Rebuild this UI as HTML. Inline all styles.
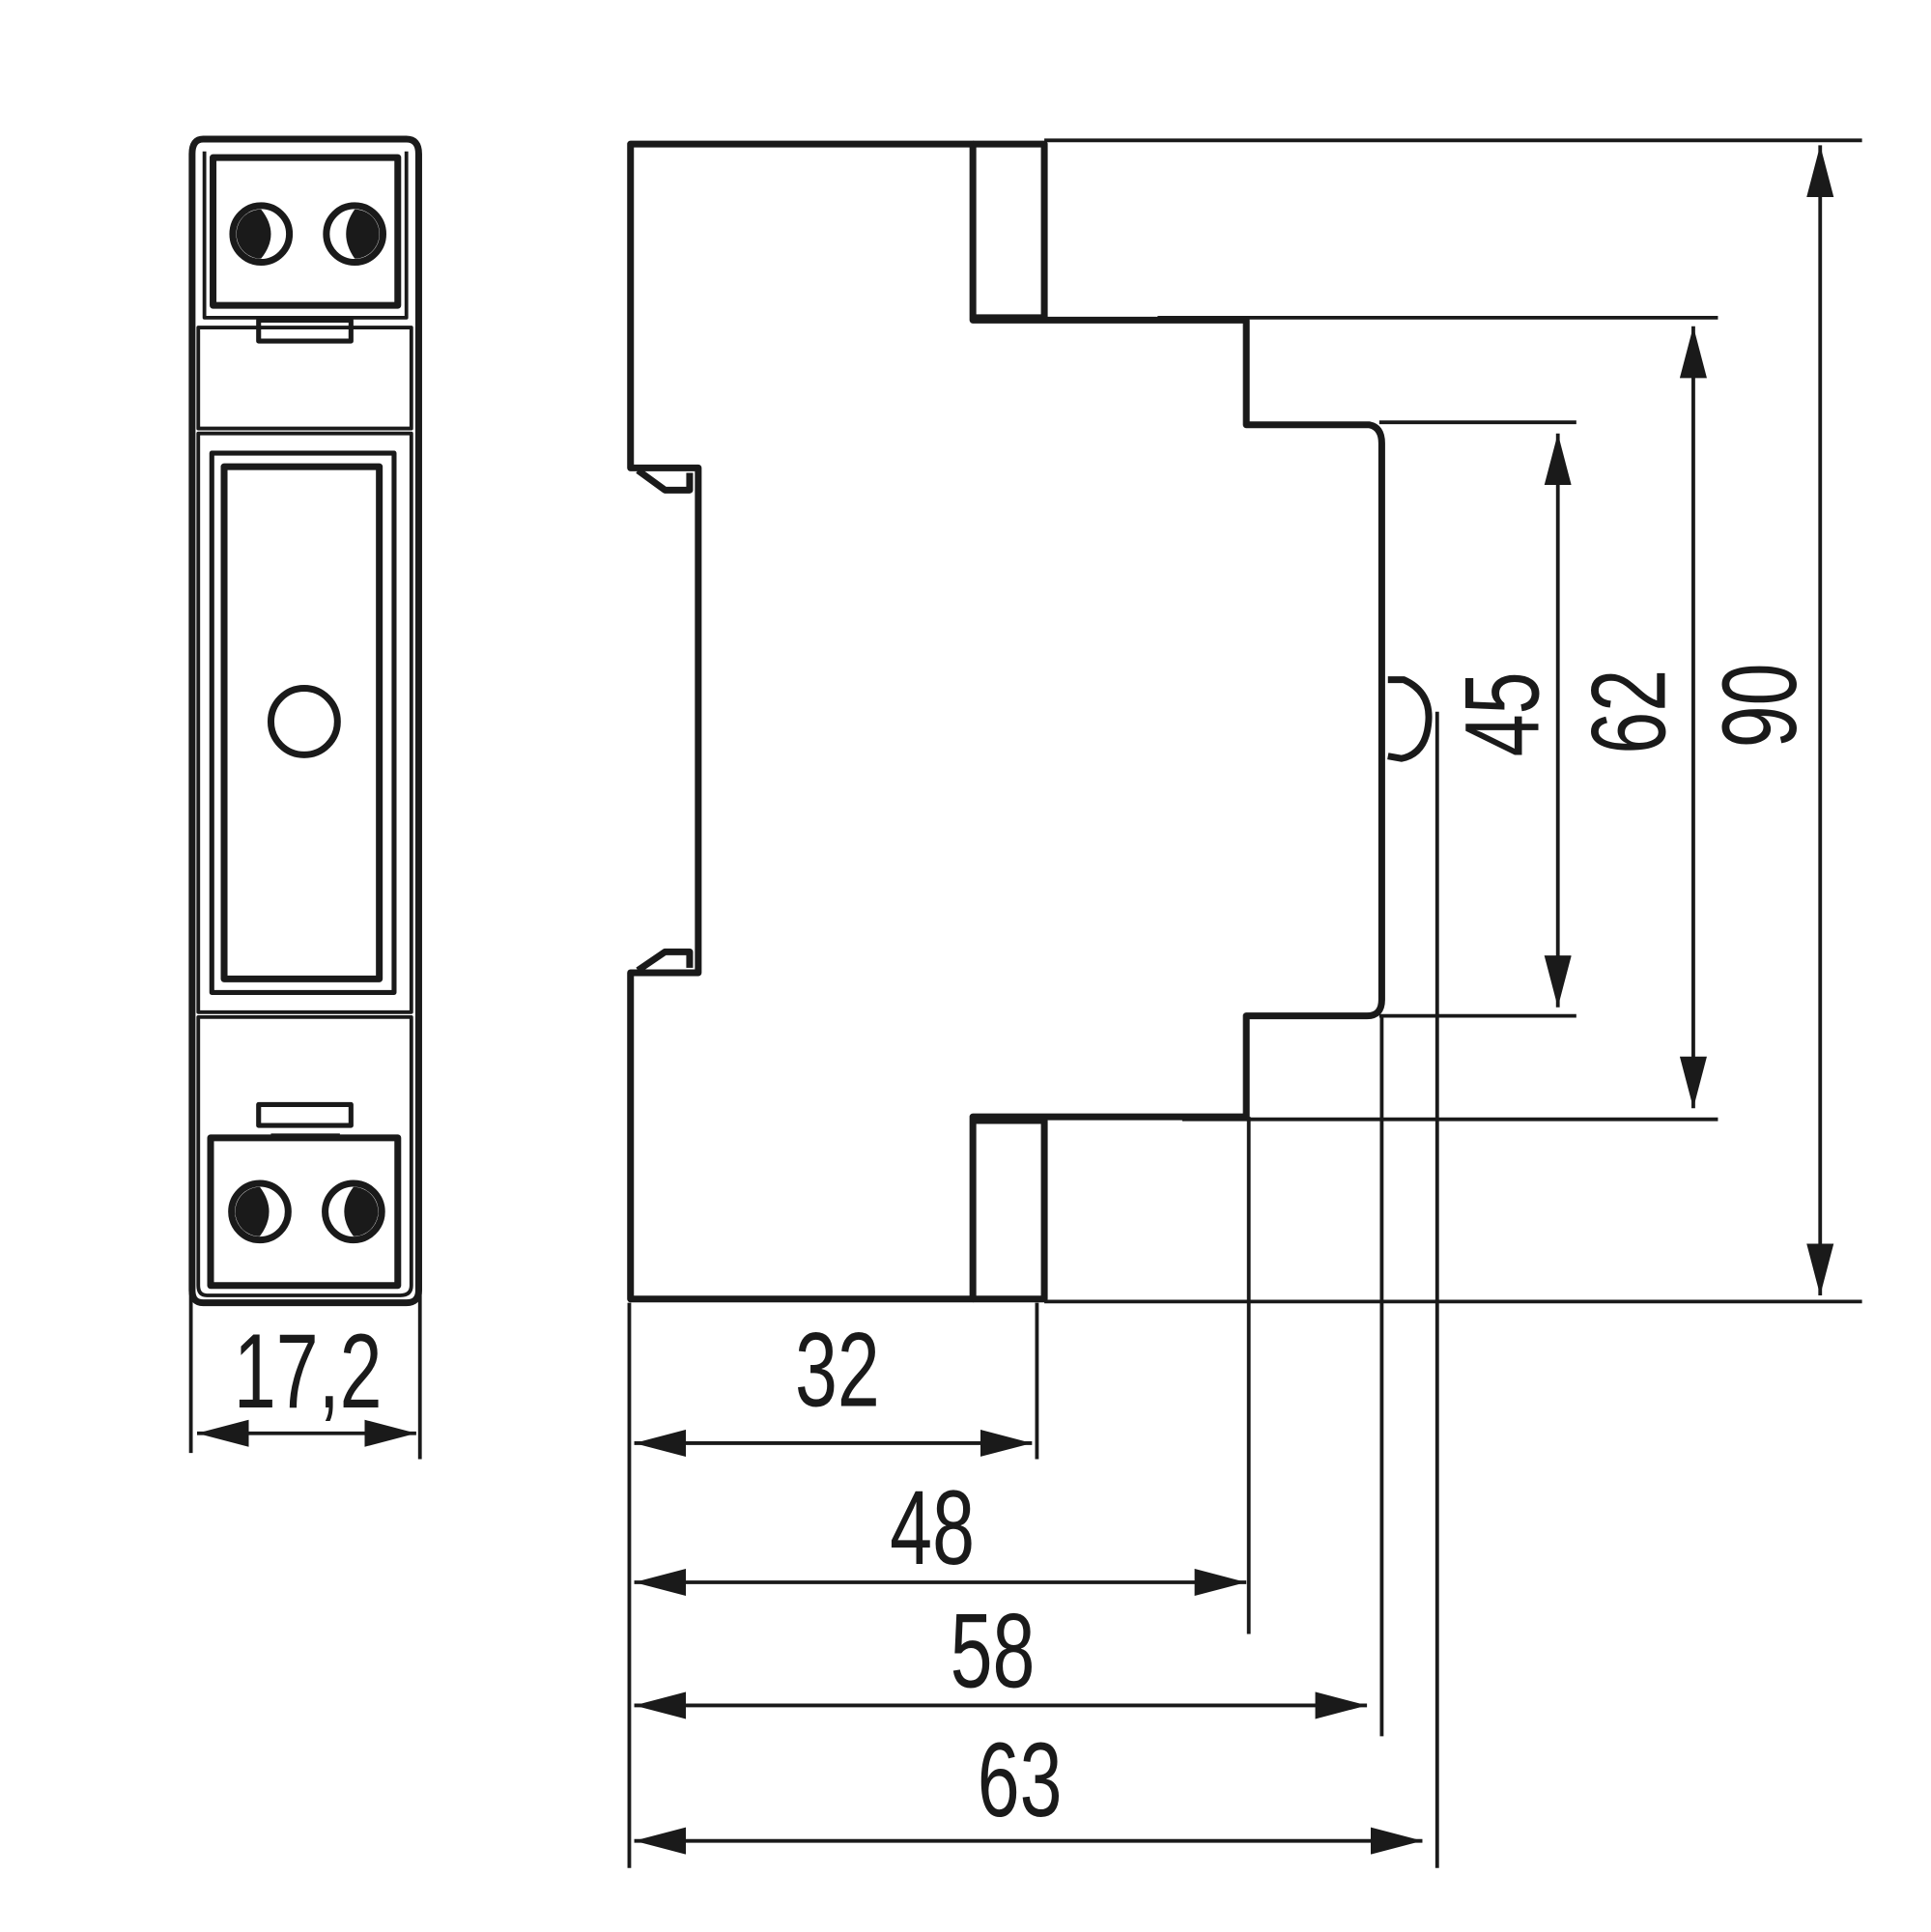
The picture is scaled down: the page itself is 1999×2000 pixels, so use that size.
<!DOCTYPE html>
<html><head><style>html,body{margin:0;padding:0;background:#fff}svg{display:block}</style></head><body>
<svg width="1999" height="2000" viewBox="0 0 1568 1569" preserveAspectRatio="none" xmlns="http://www.w3.org/2000/svg">
<defs>
<marker id="a" viewBox="0 0 42 22" refX="42" refY="11" markerWidth="42" markerHeight="22" markerUnits="userSpaceOnUse" orient="auto-start-reverse"><path d="M0,0 L42,11 L0,22 Z" fill="#1a1a1a"/></marker>
</defs>
<g fill="none" stroke="#1a1a1a" stroke-linejoin="round">
<g stroke-width="5.5">
<path d="M165,113 H330 Q340,113 340,125 V1048 Q340,1058 330,1058 H165 Q156,1058 156,1048 V125 Q156,113 165,113 Z"/>
<rect x="173" y="128" width="150" height="120"/>
<rect x="171" y="924" width="152" height="120"/>
<rect x="182" y="379" width="126" height="416"/>
<rect x="172" y="368" width="148" height="438" stroke-width="4"/>
<circle cx="247" cy="586" r="27"/>
<circle cx="212" cy="190" r="23"/><circle cx="288" cy="190" r="23"/>
<circle cx="211" cy="984" r="23"/><circle cx="287" cy="984" r="23"/>
<rect x="210" y="260" width="75" height="17" stroke-width="4"/>
<rect x="210" y="897" width="75" height="17" stroke-width="4"/>
</g>
<g stroke-width="3">
<path d="M166,123 V258 H330 V123"/>
<path d="M161,266 H334 V348 H161 Z"/>
<path d="M161,352 H334 V822 H161 Z"/>
<path d="M161,826 H334 V1044 Q334,1052 325,1052 H168 Q161,1052 161,1044 Z"/>
<path d="M220,922 H276"/>
</g>
<g fill="#1a1a1a" stroke="none">
<path d="M212,170 A20,20 0 0 0 212,210 Q228,190 212,170Z"/>
<path d="M288,170 A20,20 0 0 1 288,210 Q274,190 288,170Z"/>
<path d="M211,964 A20,20 0 0 0 211,1004 Q226,984 211,964Z"/>
<path d="M287,964 A20,20 0 0 1 287,1004 Q272,984 287,964Z"/>
</g>
<g stroke-width="5.5">
<path d="M512,117 H790 V260 H1012 V345 H1112 Q1122,347 1122,360 V812 Q1122,825 1110,825 H1012 V907 H790 V1055 H512 V790 H567 V380 H512 Z"/>
<path d="M790,117 H848 V258 H790"/>
<path d="M790,1055 H848 V910 H790"/>
<path d="M518,382 L540,398 H560 V384"/>
<path d="M518,788 L540,773 H560 V786"/>
<path d="M1127,552 H1140 Q1162,562 1160,586 Q1158,612 1138,616 L1127,614"/>
</g>
<g stroke-width="3">
<path d="M848,114 H1512"/><path d="M848,1057 H1512"/>
<path d="M940,258 H1395"/><path d="M960,909 H1395"/>
<path d="M1120,343 H1280"/><path d="M1120,825 H1280"/>
<path d="M155,1030 V1180"/><path d="M341,1010 V1185"/>
<path d="M511,1058 V1517"/><path d="M842,1058 V1185"/>
<path d="M1014,907 V1327"/><path d="M1122,825 V1410"/><path d="M1167,578 V1517"/>
<line x1="1478" y1="118" x2="1478" y2="1052" marker-start="url(#a)" marker-end="url(#a)"/>
<line x1="1375" y1="265" x2="1375" y2="900" marker-start="url(#a)" marker-end="url(#a)"/>
<line x1="1265" y1="352" x2="1265" y2="818" marker-start="url(#a)" marker-end="url(#a)"/>
<line x1="160" y1="1164" x2="338" y2="1164" marker-start="url(#a)" marker-end="url(#a)"/>
<line x1="515" y1="1172" x2="838" y2="1172" marker-start="url(#a)" marker-end="url(#a)"/>
<line x1="515" y1="1285" x2="1012" y2="1285" marker-start="url(#a)" marker-end="url(#a)"/>
<line x1="515" y1="1385" x2="1110" y2="1385" marker-start="url(#a)" marker-end="url(#a)"/>
<line x1="515" y1="1495" x2="1155" y2="1495" marker-start="url(#a)" marker-end="url(#a)"/>
</g>
</g>
<g font-family="Liberation Sans, sans-serif" font-size="86" fill="#1a1a1a" text-anchor="middle">
<text transform="translate(250,1143) scale(0.72,1)">17,2</text>
<text transform="translate(680,1142) scale(0.72,1)">32</text>
<text transform="translate(757,1270) scale(0.72,1)">48</text>
<text transform="translate(806,1370) scale(0.72,1)">58</text>
<text transform="translate(828,1475) scale(0.72,1)">63</text>
<text transform="translate(1249,580) rotate(-90) scale(0.72,1)">45</text>
<text transform="translate(1352,578) rotate(-90) scale(0.72,1)">62</text>
<text transform="translate(1458,573) rotate(-90) scale(0.72,1)">90</text>
</g>
</svg>
</body></html>
